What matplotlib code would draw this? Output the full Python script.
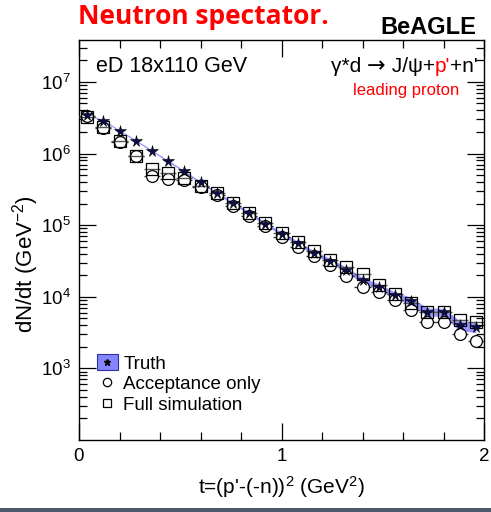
import numpy as np
import matplotlib.pyplot as plt
from matplotlib.patches import Rectangle
from matplotlib.lines import Line2D

plt.rcParams['font.family'] = ['Liberation Sans', 'DejaVu Sans']
plt.rcParams['mathtext.fontset'] = 'custom'
plt.rcParams['mathtext.rm'] = 'Liberation Sans'
plt.rcParams['mathtext.it'] = 'Liberation Sans'

# t bins (GeV^2), width 0.08
t_centers = [0.04, 0.12, 0.20, 0.28, 0.36, 0.44, 0.52, 0.60, 0.68, 0.76,
             0.84, 0.92, 1.00, 1.08, 1.16, 1.24, 1.32, 1.40, 1.48, 1.56,
             1.64, 1.72, 1.80, 1.88, 1.96]
half_width = 0.04

truth = [3.47e6, 2.89e6, 2.09e6, 1.52e6, 1.09e6, 7.85e5, 5.62e5, 3.95e5, 2.81e5, 2.04e5,
         1.48e5, 1.05e5, 7.6e4, 5.65e4, 4.1e4, 3.2e4, 2.4e4, 1.7e4, 1.38e4, 1.05e4,
         8.7e3, 6.2e3, 6.1e3, 4.0e3, 3.77e3]
truth_relerr = [0.01, 0.01, 0.01, 0.015, 0.015, 0.02, 0.02, 0.025, 0.03, 0.035,
                0.04, 0.045, 0.05, 0.06, 0.065, 0.07, 0.08, 0.09, 0.10, 0.11,
                0.12, 0.13, 0.13, 0.16, 0.16]

acceptance = [3.3e6, 2.27e6, 1.45e6, 9.1e5, 4.8e5, 4.45e5, 4.3e5, 3.4e5, 2.6e5, 1.83e5,
              1.33e5, 9.7e4, 6.8e4, 4.9e4, 3.67e4, 2.75e4, 1.98e4, 1.38e4, 1.17e4, 8.95e3,
              6.6e3, 4.4e3, 4.4e3, 2.98e3, 2.4e3]

full_sim = [3.2e6, 2.34e6, 1.49e6, 9.3e5, 6.07e5, 5.3e5, 4.55e5, 3.55e5, 2.81e5, 2.04e5,
            1.48e5, 1.07e5, 7.8e4, 5.76e4, 4.3e4, 3.3e4, 2.58e4, 2.1e4, 1.48e4, 1.1e4,
            8.1e3, 6.1e3, 6.1e3, 4.7e3, 4.4e3]

t = np.array(t_centers)
tr = np.array(truth)
terr = tr * np.array(truth_relerr)

fig = plt.figure(figsize=(4.91, 5.12), dpi=100)
ax = fig.add_axes([79/491, 1 - 440/512, 405/491, 400/512])

band_color = '#8585ff'
ax.fill_between(t, tr - terr, tr + terr, color=band_color, alpha=0.85, lw=0, zorder=1)
ax.plot(t, tr, color=band_color, lw=0.9, alpha=0.6, zorder=1)

ax.errorbar(t, acceptance, xerr=half_width, fmt='o', ms=8.5, mfc='white', mec='black',
            mew=0.9, ecolor='#333333', elinewidth=1.0, capsize=0, zorder=3)
ax.errorbar(t, full_sim, xerr=half_width, fmt='s', ms=8, mfc='none', mec='black',
            mew=0.9, ecolor='#555555', elinewidth=1.0, capsize=0, zorder=4)
ax.plot(t, tr, ls='none', marker='*', ms=8.5, color='#0c0c48', mec='black', mew=0.4, zorder=5)

ax.set_yscale('log')
ax.set_xlim(0, 2)
ax.set_ylim(100, 3.85e7)
ax.set_xticks([0, 1, 2])
ax.set_xticks(np.arange(0, 2.01, 0.2), minor=True)
ax.set_yticks([1e3, 1e4, 1e5, 1e6, 1e7])
ax.tick_params(which='both', direction='in', top=True, right=True, labelsize=13.5, width=0.9)
ax.tick_params(which='major', length=12, pad=6)
ax.tick_params(which='minor', length=6)
for sp in ax.spines.values():
    sp.set_linewidth(1.0)

ax.set_ylabel('dN/dt (GeV$^{-2}$)', fontsize=16)
ax.yaxis.set_label_coords(-0.093, 0.44)
ax.set_xlabel("t=(p'-(-n))$^{2}$ (GeV$^{2}$)", fontsize=15, labelpad=6)

ax.text(0.042, 0.935, 'eD 18x110 GeV', transform=ax.transAxes, fontsize=15.5, va='center')

# reaction label, pieces chained right to left so the proton can be red
fs = 15
ty = 0.935
renderer = fig.canvas.get_renderer()
pieces = [("+n'", 'black', fs, 'Liberation Sans'),
          ("p'", 'red', fs, 'Liberation Sans'),
          (" J/\u03c8+", 'black', fs, 'Liberation Sans'),
          ("\u2192", 'black', fs + 1, 'DejaVu Sans'),
          ("\u03b3*d ", 'black', fs, 'Liberation Sans')]
xr = 0.985
for s, c, size, fam in pieces:
    tx = ax.text(xr, ty, s, transform=ax.transAxes, fontsize=size, ha='right',
                 va='center', color=c, family=fam)
    xr = tx.get_window_extent(renderer).transformed(ax.transAxes.inverted()).x0
ax.text(0.94, 0.873, 'leading proton', transform=ax.transAxes, fontsize=12, ha='right',
        va='center', color='red')

# legend
h_truth = (Rectangle((0, 0), 1, 1, fc=band_color, ec='#3030a0', lw=0.8),
           Line2D([], [], ls='none', marker='*', ms=5, color='black'))
h_acc = Line2D([], [], ls='none', marker='o', ms=6, mfc='white', mec='black', mew=0.9)
h_full = Line2D([], [], ls='none', marker='s', ms=6, mfc='white', mec='black', mew=0.9)
ax.legend([h_truth, h_acc, h_full], ['Truth', 'Acceptance only', 'Full simulation'],
          loc='lower left', bbox_to_anchor=(0.026, 0.047), frameon=False, fontsize=13.5,
          handlelength=1.1, handleheight=0.9, handletextpad=0.3, labelspacing=0.12,
          borderaxespad=0)

fig.text(78/491, 1 - 17/512, 'Neutron spectator.', fontsize=19, fontweight='bold',
         color='red', family=['Open Sans', 'DejaVu Sans'], va='center')
fig.text(476/491, 1 - 27/512, 'BeAGLE', fontsize=17, fontweight='bold', ha='right', va='center')

fig.patches.append(Rectangle((0, 0), 1, 4/512, transform=fig.transFigure,
                             fc='#4b5a6c', ec='none'))

fig.savefig('out.png', dpi=100)
